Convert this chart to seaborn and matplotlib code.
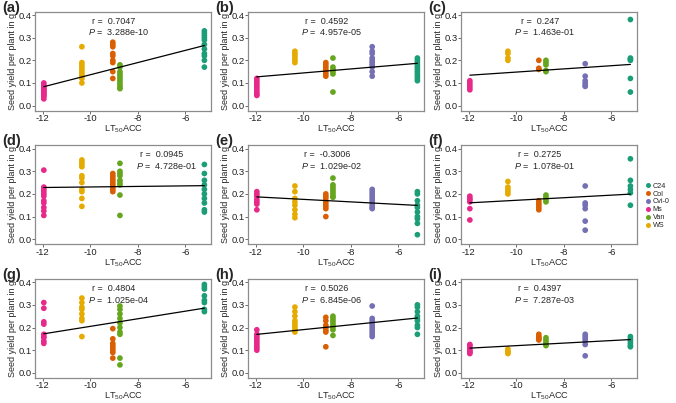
import pandas as pd
import matplotlib.pyplot as plt
import seaborn as sns
from matplotlib.lines import Line2D

# LT50ACC of each accession (x position of each column)
LT50 = {"C24": -5.2, "Col": -9.05, "Cvi-0": -7.1, "Ms": -11.95, "Van": -8.75, "WS": -10.35}
GENOTYPES = ["C24", "Col", "Cvi-0", "Ms", "Van", "WS"]
PALETTE = {"C24": "#1B9E77", "Col": "#D95F02", "Cvi-0": "#7570B3",
           "Ms": "#E7298A", "Van": "#66A61E", "WS": "#E6AB02"}

# Seed yield per plant (g)
yield_a = {
    "Ms": [0.03, 0.04, 0.045, 0.05, 0.055, 0.06, 0.065, 0.07, 0.075, 0.08, 0.09, 0.10],
    "WS": [0.26, 0.19, 0.18, 0.17, 0.16, 0.15, 0.14, 0.13, 0.12, 0.10],
    "Col": [0.28, 0.27, 0.26, 0.23, 0.22, 0.20, 0.19, 0.15, 0.12],
    "Van": [0.18, 0.17, 0.15, 0.14, 0.13, 0.12, 0.11, 0.10, 0.09, 0.08, 0.075],
    "C24": [0.33, 0.32, 0.31, 0.30, 0.29, 0.27, 0.25, 0.23, 0.22, 0.20, 0.17],
}
yield_b = {
    "Ms": [0.12, 0.11, 0.10, 0.09, 0.08, 0.07, 0.06, 0.05, 0.045],
    "WS": [0.24, 0.23, 0.22, 0.21, 0.20, 0.19],
    "Col": [0.19, 0.18, 0.17, 0.16, 0.15, 0.14, 0.13],
    "Van": [0.21, 0.17, 0.16, 0.15, 0.14, 0.06],
    "Cvi-0": [0.26, 0.24, 0.23, 0.21, 0.20, 0.19, 0.18, 0.17, 0.15, 0.13],
    "C24": [0.21, 0.20, 0.19, 0.18, 0.17, 0.16, 0.15, 0.14, 0.13, 0.12, 0.11],
}
yield_c = {
    "Ms": [0.11, 0.10, 0.09, 0.08, 0.07],
    "WS": [0.24, 0.23, 0.21, 0.20],
    "Col": [0.20, 0.165, 0.16],
    "Van": [0.20, 0.19, 0.18, 0.155, 0.15],
    "Cvi-0": [0.185, 0.13, 0.11, 0.10, 0.09, 0.085],
    "C24": [0.38, 0.21, 0.205, 0.20, 0.12, 0.06],
}
yield_d = {
    "Ms": [0.305, 0.23, 0.22, 0.21, 0.20, 0.19, 0.17, 0.16, 0.14, 0.125, 0.105],
    "WS": [0.35, 0.34, 0.33, 0.32, 0.28, 0.27, 0.25, 0.22, 0.21, 0.18, 0.145],
    "Col": [0.29, 0.28, 0.27, 0.26, 0.25, 0.24, 0.23, 0.22, 0.21],
    "Van": [0.335, 0.30, 0.29, 0.28, 0.26, 0.25, 0.24, 0.195, 0.105],
    "C24": [0.33, 0.29, 0.26, 0.24, 0.22, 0.20, 0.18, 0.16, 0.13, 0.12],
}
yield_e = {
    "Ms": [0.21, 0.20, 0.19, 0.175, 0.165, 0.155, 0.13],
    "WS": [0.235, 0.21, 0.18, 0.165, 0.15, 0.13, 0.11, 0.095],
    "Col": [0.20, 0.19, 0.18, 0.165, 0.155, 0.145, 0.135, 0.10],
    "Van": [0.27, 0.24, 0.23, 0.22, 0.21, 0.20, 0.19, 0.185],
    "Cvi-0": [0.22, 0.21, 0.20, 0.19, 0.18, 0.17, 0.16, 0.15, 0.14, 0.135],
    "C24": [0.21, 0.20, 0.17, 0.15, 0.14, 0.12, 0.10, 0.09, 0.07, 0.02],
}
yield_f = {
    "Ms": [0.19, 0.18, 0.175, 0.165, 0.135, 0.085],
    "WS": [0.255, 0.23, 0.22, 0.21, 0.20],
    "Col": [0.17, 0.16, 0.15, 0.14, 0.13],
    "Van": [0.195, 0.185, 0.175, 0.165],
    "Cvi-0": [0.235, 0.16, 0.15, 0.135, 0.08, 0.04],
    "C24": [0.355, 0.26, 0.235, 0.22, 0.205, 0.15],
}
yield_g = {
    "Ms": [0.31, 0.285, 0.225, 0.215, 0.17, 0.16, 0.155, 0.14, 0.13],
    "WS": [0.33, 0.31, 0.29, 0.28, 0.26, 0.24, 0.23, 0.16],
    "Col": [0.195, 0.15, 0.13, 0.12, 0.11, 0.10, 0.09, 0.065],
    "Van": [0.295, 0.28, 0.26, 0.24, 0.22, 0.20, 0.18, 0.17, 0.065, 0.035],
    "C24": [0.39, 0.38, 0.37, 0.34, 0.32, 0.31, 0.28, 0.27],
}
yield_h = {
    "Ms": [0.19, 0.17, 0.16, 0.15, 0.14, 0.13, 0.12, 0.11, 0.10],
    "WS": [0.29, 0.27, 0.25, 0.23, 0.22, 0.21, 0.20, 0.19, 0.18],
    "Col": [0.245, 0.23, 0.21, 0.20, 0.19, 0.18, 0.115],
    "Van": [0.25, 0.24, 0.23, 0.22, 0.21, 0.20, 0.19, 0.165],
    "Cvi-0": [0.295, 0.24, 0.23, 0.22, 0.21, 0.20, 0.19, 0.18, 0.17, 0.16],
    "C24": [0.30, 0.29, 0.27, 0.25, 0.24, 0.23, 0.21, 0.20, 0.17],
}
yield_i = {
    "Ms": [0.125, 0.12, 0.11, 0.10, 0.095, 0.09, 0.085],
    "WS": [0.105, 0.095, 0.09, 0.085],
    "Col": [0.17, 0.16, 0.155, 0.15, 0.145],
    "Van": [0.155, 0.145, 0.135, 0.125, 0.12],
    "Cvi-0": [0.17, 0.16, 0.15, 0.14, 0.125, 0.075],
    "C24": [0.16, 0.15, 0.14, 0.13, 0.12, 0.115],
}

panels = [yield_a, yield_b, yield_c, yield_d, yield_e, yield_f, yield_g, yield_h, yield_i]
panel_labels = ["(a)", "(b)", "(c)", "(d)", "(e)", "(f)", "(g)", "(h)", "(i)"]
r_values = ["0.7047", "0.4592", "0.247", "0.0945", "-0.3006", "0.2725", "0.4804", "0.5026", "0.4397"]
p_values = ["3.288e-10", "4.957e-05", "1.463e-01", "4.728e-01", "1.029e-02",
            "1.078e-01", "1.025e-04", "6.845e-06", "7.287e-03"]

sns.set_theme(style="white")
plt.rcParams["font.family"] = ["Liberation Sans", "DejaVu Sans"]
plt.rcParams["mathtext.fontset"] = "custom"
plt.rcParams["mathtext.rm"] = "Liberation Sans"
plt.rcParams["mathtext.it"] = "Liberation Sans:italic"
plt.rcParams["axes.unicode_minus"] = False

fig = plt.figure(figsize=(6.76, 4.03), dpi=100)

lefts = [0.0518, 0.3669, 0.682]
bottoms = [0.7255, 0.394, 0.0625]
w, h = 0.2604, 0.2457

for i, data in enumerate(panels):
    row, col = divmod(i, 3)
    ax = fig.add_axes([lefts[col], bottoms[row], w, h])

    rows = [(g, LT50[g], v) for g in GENOTYPES if g in data for v in data[g]]
    df = pd.DataFrame(rows, columns=["genotype", "LT50", "seed_yield"])

    sns.regplot(data=df, x="LT50", y="seed_yield", scatter=False, ci=None,
                color="black", line_kws={"linewidth": 0.9}, ax=ax)
    sns.scatterplot(data=df, x="LT50", y="seed_yield", hue="genotype",
                    palette=PALETTE, s=17, linewidth=0, legend=False,
                    zorder=1, ax=ax)
    ax.lines[0].set_zorder(3)

    ax.set_xlim(-12.32, -4.92)
    ax.set_ylim(-0.022, 0.415)
    ax.set_xticks([-12, -10, -8, -6])
    ax.set_yticks([0.0, 0.1, 0.2, 0.3, 0.4])
    ax.set_yticklabels(["0.0", "0.1", "0.2", "0.3", "0.4"])
    ax.set_xlabel("LT$_{50}$ACC", fontsize=6.6)
    ax.set_ylabel("Seed yield per plant in g", fontsize=6.5)
    ax.xaxis.set_label_coords(0.5, -0.12)
    ax.yaxis.set_label_coords(-0.105, 0.5)
    ax.tick_params(axis="both", labelsize=6.8, length=2, width=0.6,
                   color="#555555", labelcolor="#222222", pad=0.6,
                   bottom=True, left=True)
    for sp in ax.spines.values():
        sp.set_color("#8c8c8c")
        sp.set_linewidth(0.9)

    # correlation text
    rx = -7.0 if i == 3 else -9.0
    ax.text(rx, 0.373, f"r =  {r_values[i]}", ha="center", va="center", fontsize=6.5)
    ax.text(rx + 0.2, 0.323, f"$P$ =  {p_values[i]}", ha="center", va="center", fontsize=6.5)

    fig.text(lefts[col] - 0.049, bottoms[row] + h + 0.010, panel_labels[i],
             fontsize=10.5, fontweight="bold", ha="left", va="center")

handles = [Line2D([0], [0], marker="o", linestyle="", markersize=3.6,
                  markerfacecolor=PALETTE[g], markeredgewidth=0) for g in GENOTYPES]
fig.legend(handles, GENOTYPES, loc="center left", bbox_to_anchor=(0.955, 0.489),
           frameon=False, fontsize=5.2, handletextpad=0.2, labelspacing=0.12,
           borderpad=0, borderaxespad=0, handlelength=0.8)

fig.savefig("out.png", dpi=100)
